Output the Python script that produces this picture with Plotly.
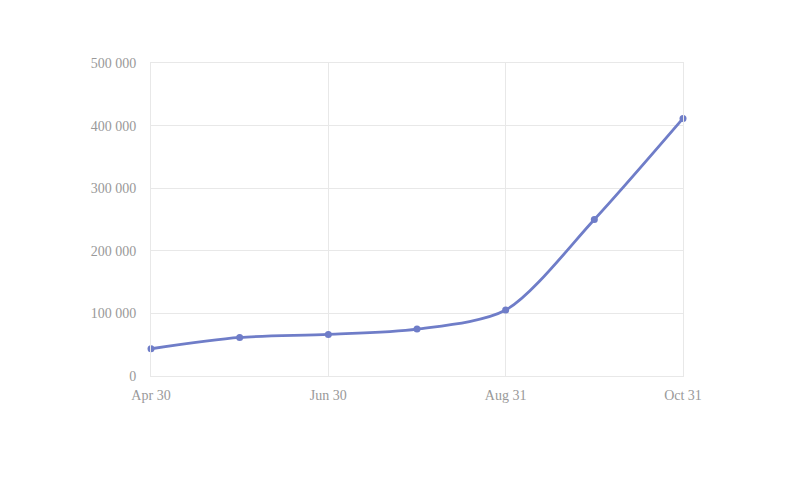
import plotly.graph_objects as go

# Données
dates = ["Apr 30", "May 31", "Jun 30", "Jul 31", "Aug 31", "Sep 30", "Oct 31"]
valeurs = [43500, 61600, 66400, 75000, 105300, 250000, 411500]
labels_affiches = ["Apr 30", "Jun 30", "Aug 31", "Oct 31"]
graduations_y = [0, 100000, 200000, 300000, 400000, 500000]

couleur_grille = "#e8e8e8"

fig = go.Figure()

fig.add_trace(go.Scatter(
    x=dates, y=valeurs,
    mode="lines+markers",
    line=dict(color="#6f7dc8", width=2.8, shape="spline", smoothing=0.8),
    marker=dict(color="#6f7dc8", size=7),
    cliponaxis=False,
    hoverinfo="x+y",
))

# le navigateur décale la page de 8 px, on compense dans les marges
fig.update_layout(
    width=800, height=480,
    margin=dict(l=143, r=125, t=55, b=112),
    paper_bgcolor="white", plot_bgcolor="white",
    showlegend=False,
    separators=". ",
    font=dict(family="Liberation Serif", size=14, color="#999999"),
)

fig.update_xaxes(
    type="category",
    range=[0, len(dates) - 1],
    tickmode="array",
    tickvals=labels_affiches, ticktext=labels_affiches,
    showgrid=True, gridcolor=couleur_grille, gridwidth=1,
    showline=True, linecolor=couleur_grille, linewidth=1, mirror=True,
    zeroline=False, ticks="",
    ticklabelstandoff=6,
)

fig.update_yaxes(
    range=[0, 500000],
    tickmode="array", tickvals=graduations_y,
    tickformat=",.0f",
    showgrid=True, gridcolor=couleur_grille, gridwidth=1,
    showline=True, linecolor=couleur_grille, linewidth=1, mirror=True,
    zeroline=False, ticks="",
    ticklabelstandoff=11,
)

fig.write_html("out.html")
